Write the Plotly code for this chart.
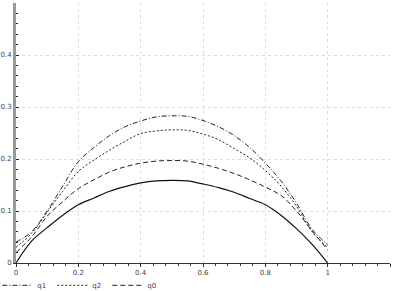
import plotly.graph_objects as go

x_vals = [0.0, 0.05, 0.1, 0.15, 0.2, 0.25, 0.3, 0.35, 0.4, 0.45, 0.5,
          0.55, 0.6, 0.65, 0.7, 0.75, 0.8, 0.85, 0.9, 0.95, 1.0]

base = [0.0, 0.042, 0.068, 0.092, 0.112, 0.125, 0.138, 0.147, 0.154, 0.158, 0.159,
        0.158, 0.152, 0.145, 0.136, 0.124, 0.112, 0.092, 0.066, 0.036, 0.0]
q1 = [0.04, 0.06, 0.10, 0.148, 0.195, 0.222, 0.245, 0.262, 0.273, 0.281, 0.283,
      0.282, 0.274, 0.262, 0.245, 0.222, 0.192, 0.158, 0.115, 0.065, 0.035]
q2 = [0.03, 0.057, 0.098, 0.138, 0.176, 0.198, 0.217, 0.234, 0.249, 0.254, 0.256,
      0.255, 0.248, 0.237, 0.220, 0.202, 0.178, 0.148, 0.109, 0.060, 0.030]
q0 = [0.02, 0.05, 0.09, 0.118, 0.143, 0.160, 0.175, 0.185, 0.192, 0.196, 0.197,
      0.196, 0.190, 0.182, 0.172, 0.160, 0.146, 0.130, 0.100, 0.062, 0.025]

x_ticks = [0, 0.2, 0.4, 0.6, 0.8, 1.0, 1.2]
x_tick_labels = ["0", "0.2", "0.4", "0.6", "0.8", "1", "1.2"]

font = dict(family="DejaVu Sans", size=7, color="#444")

fig = go.Figure()
fig.add_trace(go.Scatter(x=x_vals, y=base, mode="lines", showlegend=False,
                         line=dict(color="#111", width=1.2, shape="spline")))
fig.add_trace(go.Scatter(x=x_vals, y=q1, mode="lines", name="q1",
                         line=dict(color="#222", width=1, dash="5px,2px,1px,2px", shape="spline")))
fig.add_trace(go.Scatter(x=x_vals, y=q2, mode="lines", name="q2",
                         line=dict(color="#222", width=1, dash="2px,2px", shape="spline")))
fig.add_trace(go.Scatter(x=x_vals, y=q0, mode="lines", name="q0",
                         line=dict(color="#222", width=1, dash="5px,3px", shape="spline")))

fig.update_layout(
    width=395, height=291,
    margin=dict(l=16, r=5, t=3, b=28, autoexpand=False),
    paper_bgcolor="white", plot_bgcolor="white",
    font=font,
    legend=dict(orientation="h", x=-0.05, xanchor="left", y=-0.03, yanchor="top",
                font=font, itemwidth=30, entrywidth=10, tracegroupgap=0,
                bgcolor="rgba(0,0,0,0)"),
)
fig.update_xaxes(range=[0, 1.2], tickvals=x_ticks, ticktext=x_tick_labels, automargin=False,
                 showgrid=True, gridcolor="#dddddd", griddash="3px,3px", gridwidth=1,
                 zeroline=False, showline=True, linecolor="#333", linewidth=1,
                 ticks="outside", ticklen=3, tickcolor="#333",
                 minor=dict(dtick=0.04, ticks="outside", ticklen=2, tickcolor="#333", showgrid=False),
                 tickfont=font)
fig.update_yaxes(range=[0, 0.5], dtick=0.1, tick0=0, automargin=False,
                 showgrid=True, gridcolor="#dddddd", griddash="3px,3px", gridwidth=1,
                 zeroline=False, showline=True, linecolor="#999", linewidth=3,
                 ticks="inside", ticklen=3, tickcolor="#222",
                 minor=dict(dtick=0.02, ticks="inside", ticklen=2, tickcolor="#222", showgrid=False),
                 tickfont=font)

fig.write_html("out.html", config={"displayModeBar": False},
               post_script="document.body.style.margin='0';document.body.style.padding='0';")
